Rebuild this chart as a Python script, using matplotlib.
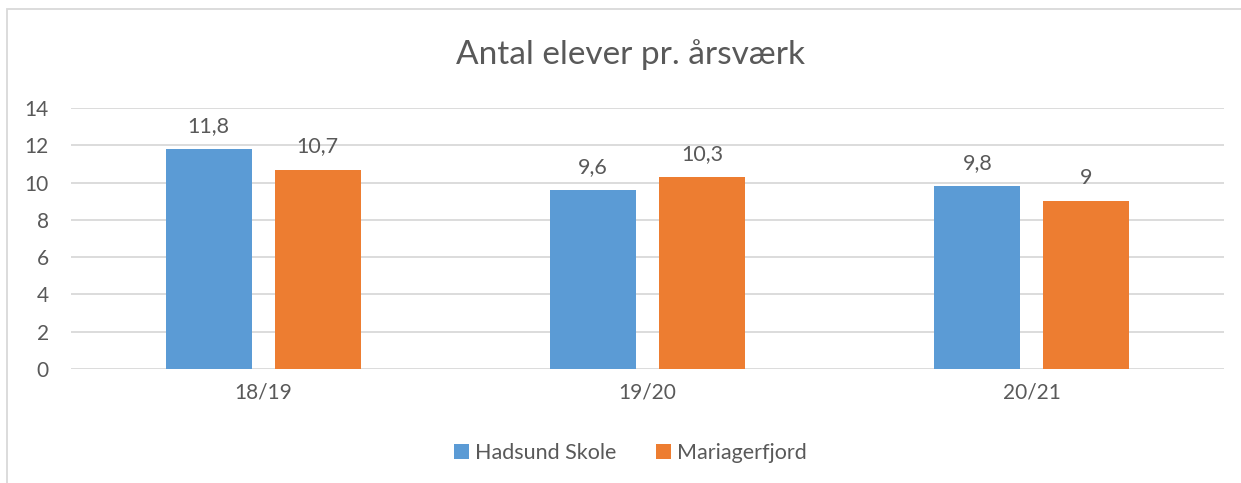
import numpy as np
import matplotlib
matplotlib.use("Agg")
from matplotlib import pyplot as plt
from matplotlib.patches import Rectangle

plt.rcParams['font.family'] = ['Lato', 'DejaVu Sans']

categories = ['18/19', '19/20', '20/21']
hadsund = [11.8, 9.6, 9.8]
mariagerfjord = [10.7, 10.3, 9.0]
series_names = ['Hadsund Skole', 'Mariagerfjord']

BLUE = '#5B9BD5'
ORANGE = '#ED7D31'
TEXT = '#595959'
GRID = '#D9D9D9'


def fmt(v):
    s = f"{v:g}"
    return s.replace('.', ',')


fig = plt.figure(figsize=(12.41, 4.83), dpi=100)
ax = fig.add_axes([71 / 1241, 1 - 369 / 483, (1224 - 71) / 1241, (369 - 108) / 483])

# chart border (cut off at right and bottom like the screenshot)
fig.patches.append(Rectangle((7 / 1241, -0.1), 1.2, 1 - 9 / 483 + 0.1, transform=fig.transFigure,
                             fill=False, edgecolor=GRID, linewidth=1.3))

x = np.arange(len(categories))
w = 0.224
off = 0.142
b1 = ax.bar(x - off, hadsund, w, color=BLUE, label=series_names[0], zorder=3)
b2 = ax.bar(x + off, mariagerfjord, w, color=ORANGE, label=series_names[1], zorder=3)

for bars, vals in ((b1, hadsund), (b2, mariagerfjord)):
    for rect, v in zip(bars, vals):
        ax.text(rect.get_x() + rect.get_width() / 2, v + 0.7, fmt(v), ha='center', va='bottom',
                fontsize=15.5, color=TEXT)

ax.set_xlim(-0.5, 2.5)
ax.set_ylim(0, 14)
ax.set_yticks(range(0, 15, 2))
ax.set_xticks(x)
ax.set_xticklabels(categories)
ax.tick_params(axis='both', length=0, labelsize=15, labelcolor=TEXT)
ax.tick_params(axis='y', pad=16)
ax.tick_params(axis='x', pad=10)
ax.grid(axis='y', color=GRID, linewidth=1.3, zorder=0)
for s in ax.spines.values():
    s.set_visible(False)

fig.text(0.508, 1 - 55 / 483, 'Antal elever pr. årsværk', ha='center', va='center', fontsize=24, color=TEXT)

fig.legend(handles=[b1, b2], loc='center', bbox_to_anchor=(0.508, 1 - 453 / 483), ncol=2,
           frameon=False, fontsize=15.5, labelcolor=TEXT, handlelength=0.7, handleheight=0.7,
           handletextpad=0.3, columnspacing=1.8)

fig.savefig('out.png', dpi=100)
